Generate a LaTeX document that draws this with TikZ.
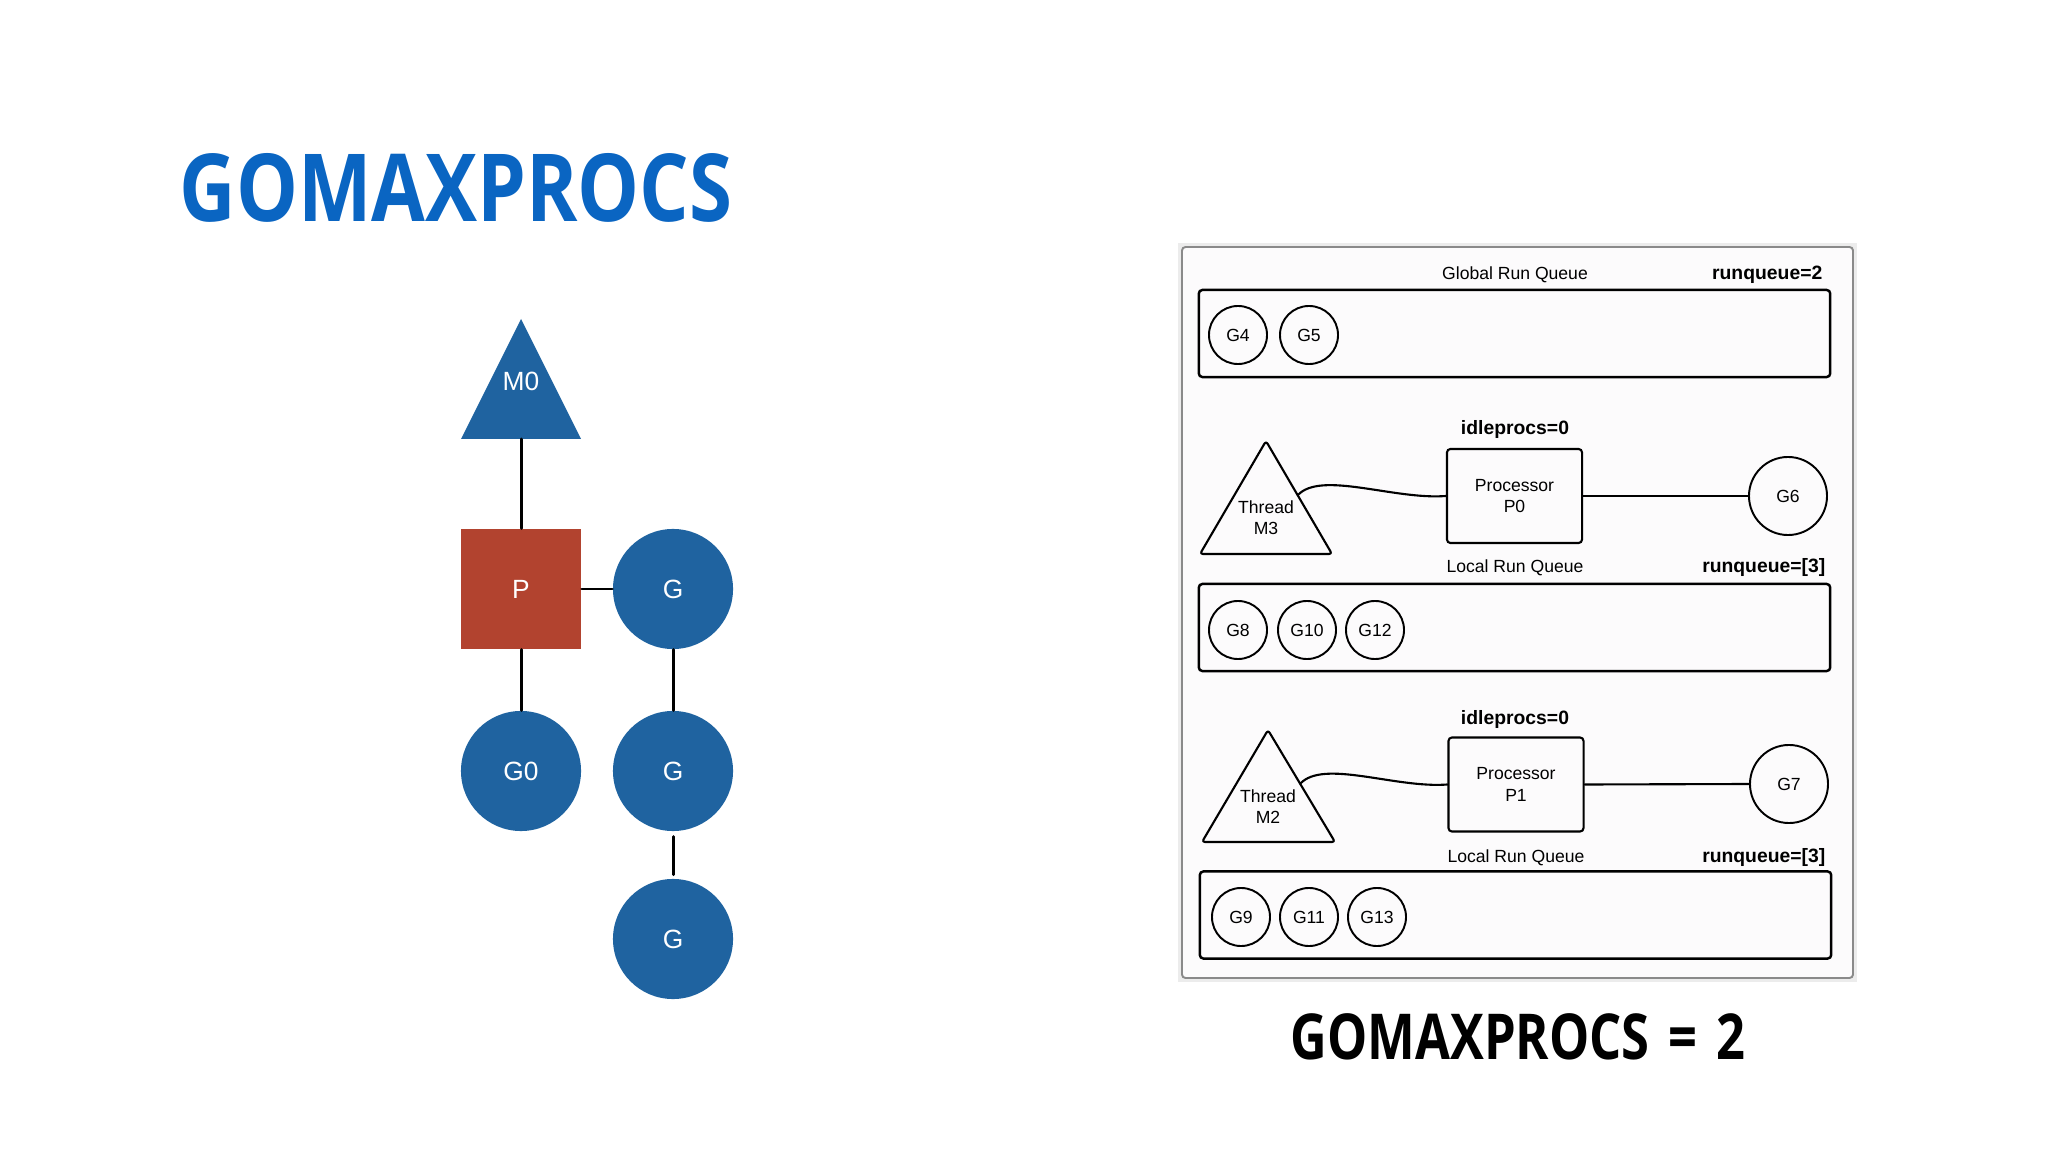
\documentclass[tikz,border=0pt]{standalone}
\usepackage{fontspec}
\usepackage{xcolor}
\usepackage{tikz}
\usetikzlibrary{calc,positioning}
\setmainfont{Liberation Sans}
\newfontfamily\titlefont[FakeStretch=0.83]{Open Sans}
\newfontfamily\captionfont[FakeStretch=0.80]{Open Sans}
\definecolor{goblue}{RGB}{31,99,160}
\definecolor{gored}{RGB}{178,67,47}
\definecolor{titleblue}{RGB}{10,101,194}
\definecolor{panelbg}{RGB}{252,251,252}
\definecolor{panelline}{RGB}{138,138,138}
\definecolor{panelband}{RGB}{236,236,236}
\tikzset{%
        gnode/.style = { circle, fill=goblue, text=white, minimum size=1.2cm, inner sep=0pt, font=\fontsize{7.5}{9}\selectfont },
        pnode/.style = { rectangle, fill=gored, text=white, minimum size=1.2cm, inner sep=0pt, font=\fontsize{7.5}{9}\selectfont },
         link/.style = { line width=0.85pt },
        small/.style = { font=\fontsize{5}{6}\selectfont, inner sep=0pt },
         bold/.style = { font=\fontsize{5.5}{6.6}\selectfont\bfseries, inner sep=0pt },
        queue/.style = { draw, fill=panelbg, line width=0.7pt, rounded corners=1pt, minimum width=6.31cm, minimum height=0.87cm, inner sep=0pt },
       gqueue/.style = { small, circle, draw, fill=panelbg, line width=0.55pt, minimum size=0.58cm },
        gbusy/.style = { gqueue, minimum size=0.78cm },
         proc/.style = { small, draw, fill=panelbg, line width=0.6pt, rounded corners=1pt, minimum width=1.35cm, minimum height=0.94cm, align=center },
       thread/.style = { draw, fill=panelbg, line width=0.6pt, rounded corners=0.8pt, line join=round },
        wire/.style = { line width=0.6pt }
}
\begin{document}
\begin{tikzpicture}[x=0.01cm,y=-0.01cm,line cap=round]
\useasboundingbox (0,0) rectangle (2048,1152);
% title
\node[anchor=base west, inner sep=0pt, text=titleblue, font=\titlefont\bfseries\fontsize{26.7}{32}\selectfont] (title) at (179,222) {GOMAXPROCS};
% left: M P G
\fill[goblue] (521,319) -- (581,439) -- (461,439) -- cycle;
\coordinate (m0base) at (521,439);
\node[text=white, inner sep=0pt, font=\fontsize{7.5}{9}\selectfont] (m0) at (521,381) {M0};
\node[pnode] (p) at (521,589) {P};
\node[gnode] (g1) at (673,589) {G};
\node[gnode] (g0) at (521,771) {G0};
\node[gnode] (g2) at (673,771) {G};
\node[gnode] (g3) at (673,939) {G};
\draw[link] (m0base) -- (p.north);
\draw[link] (p.east) -- (g1.west);
\draw[link] (p.south) -- (g0.north);
\draw[link] (g1.south) -- (g2.north);
\draw[link, shorten <=1.4pt, shorten >=1pt] (g2.south) -- (g3.north);
% right: scheduler panel
\draw[panelband, line width=1.2pt] (1180,245) rectangle (1855,980);
\draw[panelline, fill=panelbg, line width=0.55pt, rounded corners=1pt] (1182,247) rectangle (1853,978);
% global run queue
\node[small, anchor=base] (globtxt) at (1515,280) {Global Run Queue};
\node[bold, anchor=base east] (globrq) at (1823,280) {runqueue=2};
\node[queue] (gq) at (1514.5,333.5) {};
\foreach \g/\x in {G4/1238, G5/1309}
  \node[gqueue] (\g) at (\x,335) {\g};
% P0
\node[bold, anchor=base] (idle0) at (1515,435) {idleprocs=0};
\draw[thread] (1266,441) coordinate (m3top) -- (1332,554) coordinate (m3right) -- (1200,554) -- cycle;
\coordinate (m3side) at ($(m3top)!0.48!(m3right)$);
\node[small, align=center] (m3) at (1266,518) {Thread\\M3};
\node[proc] (p0) at (1514.5,496) {Processor\\P0};
\node[gbusy] (G6) at (1788,496) {G6};
\draw[wire] (m3side) .. controls +(23,-25) and +(-52,4) .. (p0.west);
\draw[wire] (p0.east) -- (G6.west);
\node[small, anchor=base] (lrq0) at (1515,573) {Local Run Queue};
\node[bold, anchor=base east] (rq0) at (1826,573) {runqueue=[3]};
\node[queue] (lq0) at (1514.5,627.5) {};
\foreach \g/\x in {G8/1238, G10/1307, G12/1375}
  \node[gqueue] (\g) at (\x,630) {\g};
% P1
\node[bold, anchor=base] (idle1) at (1515,725) {idleprocs=0};
\draw[thread] (1268,730) coordinate (m2top) -- (1335,842) coordinate (m2right) -- (1202,842) -- cycle;
\coordinate (m2side) at ($(m2top)!0.48!(m2right)$);
\node[small, align=center] (m2) at (1268,807) {Thread\\M2};
\node[proc] (p1) at (1516,784.5) {Processor\\P1};
\node[gbusy] (G7) at (1789,784) {G7};
\draw[wire] (m2side) .. controls +(23,-25) and +(-52,4) .. (p1.west);
\draw[wire] (p1.east) -- (G7.west);
\node[small, anchor=base] (lrq1) at (1516,862) {Local Run Queue};
\node[bold, anchor=base east] (rq1) at (1826,862) {runqueue=[3]};
\node[queue] (lq1) at (1515.5,915) {};
\foreach \g/\x in {G9/1241, G11/1309, G13/1377}
  \node[gqueue] (\g) at (\x,917) {\g};
% caption
\node[anchor=base, inner sep=0pt, font=\captionfont\bfseries\fontsize{18}{22}\selectfont] (caption) at (1518,1059) {GOMAXPROCS\hspace{0.3em}=\hspace{0.3em}2};
\end{tikzpicture}
\end{document}
